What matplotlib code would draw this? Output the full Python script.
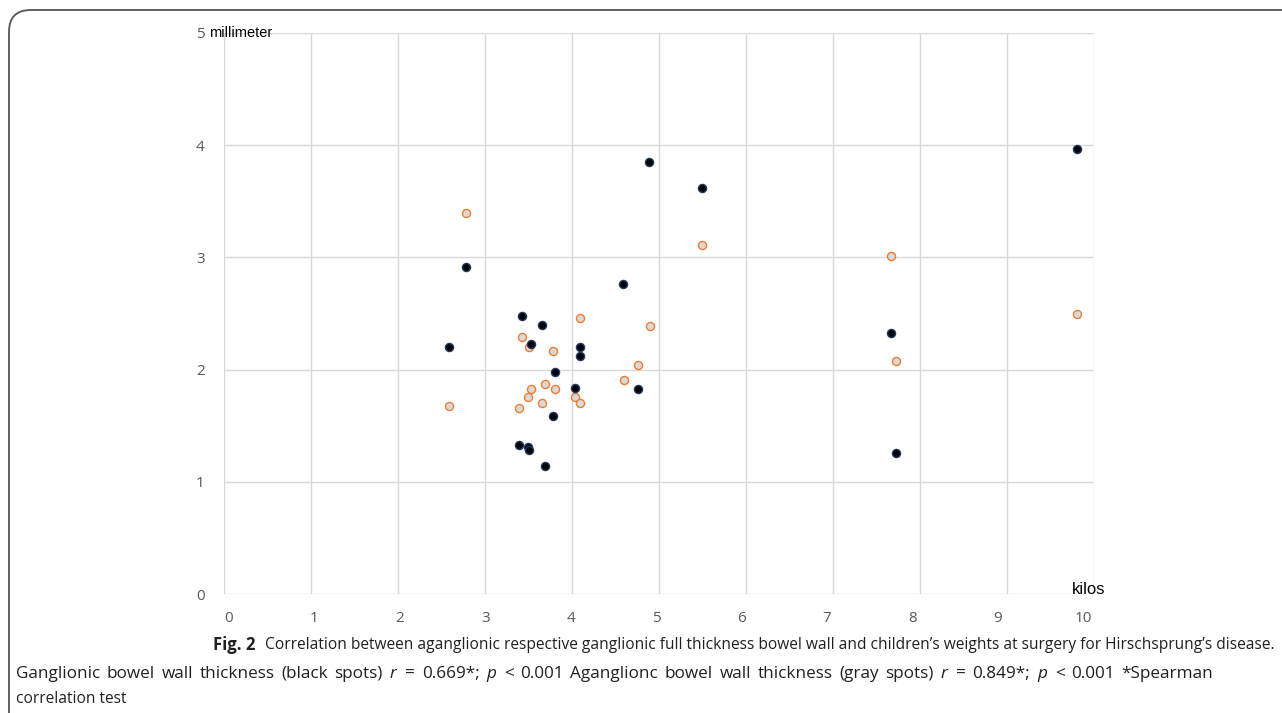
"""Scatter of bowel wall thickness vs weight (Fig. 2 recreation)."""

import matplotlib.pyplot as plt
from matplotlib.patches import FancyBboxPatch

# weight at surgery (kilos) and wall thickness (millimeter)
gang_weight = [2.59, 2.78, 3.39, 3.42, 3.49, 3.51, 3.53, 3.66, 3.69, 3.78, 3.80,
               4.04, 4.09, 4.09, 4.59, 4.76, 4.89, 5.49, 7.67, 7.72, 9.80]
gang_thick = [2.20, 2.91, 1.33, 2.48, 1.31, 1.28, 2.23, 2.40, 1.14, 1.585, 1.98,
              1.84, 2.20, 2.12, 2.76, 1.83, 3.85, 3.62, 2.33, 1.255, 3.97]

agang_weight = [2.59, 2.78, 3.39, 3.42, 3.49, 3.51, 3.53, 3.66, 3.69, 3.78, 3.80,
                4.04, 4.09, 4.09, 4.60, 4.76, 4.90, 5.49, 7.67, 7.72, 9.80]
agang_thick = [1.68, 3.40, 1.66, 2.29, 1.76, 2.20, 1.83, 1.70, 1.87, 2.17, 1.83,
               1.76, 2.46, 1.70, 1.91, 2.04, 2.39, 3.11, 3.01, 2.08, 2.50]

x_ticks = list(range(0, 11))
y_ticks = [0, 1, 2, 3, 4, 5]

caption_first = ("Correlation between aganglionic respective ganglionic full thickness "
                 "bowel wall and children\u2019s weights at surgery for Hirschsprung\u2019s disease.")
caption_second = (r"Ganglionic bowel wall thickness (black spots) $\mathit{r}$ = 0.669*; "
                  r"$\mathit{p}$ < 0.001 Aganglionc bowel wall thickness (gray spots) "
                  r"$\mathit{r}$ = 0.849*; $\mathit{p}$ < 0.001 *Spearman")
caption_third = "correlation test"

plt.rcParams["mathtext.fontset"] = "custom"
plt.rcParams["mathtext.rm"] = "Open Sans"
plt.rcParams["mathtext.it"] = "Open Sans:italic"

W, H = 1282, 713
fig = plt.figure(figsize=(W / 100, H / 100), dpi=100)
ax = fig.add_axes([224 / W, 1 - 594 / H, 870 / W, 561 / H])

ax.scatter(agang_weight, agang_thick, s=34, facecolor="#d9d9d9",
           edgecolor="#ed7d31", linewidth=1.0, zorder=3)
ax.scatter(gang_weight, gang_thick, s=34, facecolor="#000000",
           edgecolor="#1f3864", linewidth=1.0, zorder=4)

ax.set_xlim(0, 10)
ax.set_ylim(0, 5)
ax.set_xticks(x_ticks)
ax.set_yticks(y_ticks)
ax.grid(True, color="#d9d9d9", linewidth=1.0, zorder=0)
ax.set_axisbelow(True)
for sp in ax.spines.values():
    sp.set_visible(False)
ax.tick_params(length=0, labelsize=11, labelcolor="#595959", pad=14)
ax.tick_params(axis="x", labelbottom=False)
for lab in ax.get_yticklabels():
    lab.set_fontfamily("Open Sans")

# the x labels of the source sit on a slightly narrower scale than the grid
sec = ax.secondary_xaxis("bottom", functions=(lambda v: (87 * v - 5) / 85.4,
                                              lambda u: (85.4 * u + 5) / 87))
sec.set_xticks(x_ticks)
sec.tick_params(length=0, labelsize=11, labelcolor="#595959", pad=12)
sec.spines["bottom"].set_visible(False)
for lab in sec.get_xticklabels():
    lab.set_fontfamily("Open Sans")

ax.text(209, H - 33, "millimeter", transform=None, fontsize=10.5,
        family="Liberation Sans", va="center", ha="left")
ax.text(1072, H - 594, "kilos", transform=None, fontsize=12,
        family="Liberation Sans", va="baseline", ha="left")

# rounded frame, open to right and bottom
frame = FancyBboxPatch((9 / W, -0.2), 1.2, 1.2 - 10 / H,
                       boxstyle="round,pad=0,rounding_size=0.017",
                       transform=fig.transFigure, facecolor="none",
                       edgecolor="#555555", linewidth=1.3, clip_on=False,
                       mutation_aspect=W / H)
fig.patches.append(frame)

cap_kw = dict(family="Open Sans", color="#231f20")
fig.text(213 / W, 1 - 645 / H, "Fig. 2", fontsize=12, fontweight="bold",
         va="center", **cap_kw)

# first line sets the caption size (it runs from x=265 to x=1270 in the source)
first = fig.text(265 / W, 1 - 645 / H, caption_first, fontsize=12, va="center", **cap_kw)
fig.canvas.draw()
renderer = fig.canvas.get_renderer()
cap_size = 12 * (1270 - 265) / first.get_window_extent(renderer).width
first.set_fontsize(cap_size)

fig.text(16 / W, 1 - 699 / H, caption_third, fontsize=cap_size, va="center", **cap_kw)

# second line runs from x=16 to x=1213: grow it a little, spread the rest
words = caption_second.split(" ")
word_texts = [fig.text(0, 1 - 678 / H, w, fontsize=cap_size, va="baseline", **cap_kw)
              for w in words]
fig.canvas.draw()
space = 0.28 * cap_size * 100 / 72
natural = sum(t.get_window_extent(renderer).width for t in word_texts) \
    + space * (len(words) - 1)
size2 = cap_size * min((1213 - 16) / natural, 1.1)
for t in word_texts:
    t.set_fontsize(size2)
fig.canvas.draw()
widths = [t.get_window_extent(renderer).width for t in word_texts]
gap = (1213 - 16 - sum(widths)) / (len(words) - 1)
x = 16.0
for t, w in zip(word_texts, widths):
    t.set_x(x / W)
    x += w + gap

fig.savefig("out.png", dpi=100)
